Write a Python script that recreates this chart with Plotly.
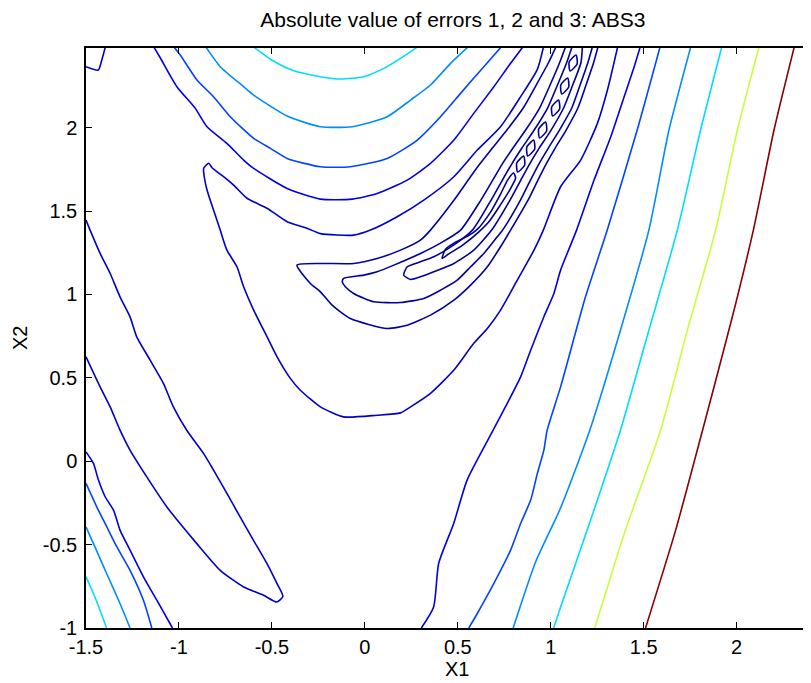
import plotly.graph_objects as go

# ---------------- axes / ticks ----------------
x_range = [-1.5, 2.4]
y_range = [-1.0, 2.478]
x_tick_vals = [-1.5, -1, -0.5, 0, 0.5, 1, 1.5, 2]
x_tick_text = ["-1.5", "-1", "-0.5", "0", "0.5", "1", "1.5", "2"]
y_tick_vals = [-1, -0.5, 0, 0.5, 1, 1.5, 2]
y_tick_text = ["-1", "-0.5", "0", "0.5", "1", "1.5", "2"]

title_text = "Absolute value of errors 1, 2 and 3: ABS3"
x_label = "X1"
y_label = "X2"

# ---------------- contour lines (data coords) ----------------
# level g (highest, dark red)
red_x = [1.510, 1.672, 1.816, 1.977, 2.090, 2.201, 2.309]
red_y = [-1.0, -0.413, 0.183, 0.866, 1.386, 1.986, 2.48]

# level f (yellow-green)
yel_x = [1.237, 1.402, 1.591, 1.735, 1.887, 2.004, 2.119]
yel_y = [-1.0, -0.413, 0.186, 0.786, 1.386, 1.986, 2.48]

# level e (cyan)
cyan_r_x = [1.016, 1.053, 1.196, 1.375, 1.528, 1.681, 1.806, 1.919]
cyan_r_y = [-1.0, -0.874, -0.413, 0.186, 0.786, 1.386, 1.986, 2.48]
cyan_top_x = [-0.594, -0.501, -0.393, -0.239, -0.131, -0.006, 0.102, 0.192, 0.278]
cyan_top_y = [2.48, 2.406, 2.346, 2.306, 2.292, 2.306, 2.356, 2.416, 2.48]
cyan_bl_x = [-1.5, -1.452, -1.389]
cyan_bl_y = [-0.693, -0.814, -1.0]

# level d (light blue)
lb_r_x = [0.798, 0.920, 1.053, 1.210, 1.375, 1.528, 1.636, 1.752]
lb_r_y = [-1.0, -0.600, -0.280, 0.186, 0.786, 1.386, 1.986, 2.48]
lb_top_x = [-0.853, -0.778, -0.652, -0.598, -0.418, -0.239, -0.068, 0.120, 0.246, 0.353, 0.461, 0.551]
lb_top_y = [2.48, 2.366, 2.246, 2.196, 2.070, 2.006, 2.006, 2.066, 2.166, 2.256, 2.386, 2.48]
lb_bl_x = [-1.5, -1.452, -1.389, -1.317, -1.263]
lb_bl_y = [-0.394, -0.514, -0.673, -0.853, -1.0]

# level c (medium blue)
mb_r_x = [0.559, 0.605, 0.694, 0.784, 0.838, 0.892, 0.928, 0.963, 0.981, 1.053, 1.187, 1.304, 1.465, 1.587]
mb_r_y = [-1.0, -0.913, -0.733, -0.533, -0.373, -0.233, -0.073, 0.067, 0.187, 0.446, 0.986, 1.386, 1.986, 2.48]
mb_top_x = [-1.024, -0.993, -0.903, -0.814, -0.724, -0.598, -0.508, -0.418, -0.239, -0.078, 0.120, 0.282, 0.407, 0.515, 0.640, 0.730]
mb_top_y = [2.48, 2.436, 2.286, 2.186, 2.066, 1.936, 1.876, 1.816, 1.766, 1.766, 1.816, 1.926, 2.066, 2.206, 2.366, 2.48]
mb_bl_x = [-1.5, -1.442, -1.388, -1.334, -1.263, -1.191, -1.146]
mb_bl_y = [-0.133, -0.274, -0.394, -0.514, -0.654, -0.834, -1.0]

# level b (blue)
b_r_x = [0.304, 0.370, 0.397, 0.478, 0.550, 0.690, 0.766, 0.838, 0.892, 0.963, 1.017, 1.053, 1.139, 1.233, 1.323, 1.395, 1.449, 1.480]
b_r_y = [-1.0, -0.874, -0.613, -0.373, -0.113, 0.186, 0.347, 0.506, 0.666, 0.866, 1.006, 1.146, 1.386, 1.686, 1.946, 2.186, 2.366, 2.48]
b_top_x = [-1.133, -1.100, -1.011, -0.912, -0.849, -0.742, -0.652, -0.598, -0.418, -0.239, -0.068, 0.066, 0.228, 0.353, 0.479, 0.586, 0.694, 0.784, 0.847]
b_top_y = [2.48, 2.418, 2.246, 2.116, 2.006, 1.906, 1.806, 1.756, 1.636, 1.572, 1.572, 1.606, 1.686, 1.786, 1.926, 2.086, 2.246, 2.386, 2.48]
b_bl_x = [-1.5, -1.460, -1.433, -1.397, -1.352, -1.317, -1.263, -1.191, -1.119, -1.035]
b_bl_y = [0.056, -0.013, -0.113, -0.213, -0.293, -0.413, -0.533, -0.693, -0.833, -1.0]

# level a (the big V around the valley, the lower-left tongue, the corner piece)
v_x = [0.960, 0.928, 0.838, 0.730, 0.605, 0.479, 0.317, 0.174, 0.030, -0.060, -0.239, -0.311,
       -0.418, -0.526, -0.634, -0.706, -0.760, -0.822, -0.840, -0.867, -0.864, -0.849, -0.814,
       -0.778, -0.742, -0.688, -0.652, -0.598, -0.526, -0.472, -0.401, -0.347, -0.239, -0.114,
       0.066, 0.192, 0.246, 0.353, 0.479, 0.586, 0.659, 0.730, 0.820, 0.910, 0.960, 1.053,
       1.161, 1.251, 1.305, 1.359]
v_y = [2.48, 2.350, 2.186, 2.006, 1.866, 1.706, 1.566, 1.466, 1.386, 1.356, 1.365, 1.397,
       1.436, 1.517, 1.577, 1.656, 1.706, 1.760, 1.787, 1.757, 1.706, 1.626, 1.506,
       1.386, 1.266, 1.166, 1.046, 0.906, 0.746, 0.626, 0.497, 0.426, 0.326, 0.266,
       0.276, 0.290, 0.326, 0.407, 0.547, 0.707, 0.796, 0.906, 1.086, 1.266, 1.386, 1.646,
       1.806, 2.026, 2.226, 2.48]
tongue_x = [-1.5, -1.478, -1.424, -1.370, -1.317, -1.263, -1.227, -1.155, -1.083, -1.030, -0.958,
            -0.868, -0.814, -0.742, -0.671, -0.599, -0.527, -0.473, -0.441, -0.473, -0.545, -0.652,
            -0.778, -0.904, -0.994, -1.065, -1.173, -1.263, -1.317, -1.370, -1.424, -1.5]
tongue_y = [1.446, 1.386, 1.246, 1.126, 0.986, 0.866, 0.746, 0.606, 0.466, 0.326, 0.186,
            0.047, -0.053, -0.193, -0.334, -0.474, -0.613, -0.733, -0.810, -0.844, -0.804, -0.754,
            -0.654, -0.494, -0.374, -0.274, -0.094, 0.067, 0.187, 0.326, 0.446, 0.626]
corner_x = [-1.5, -1.434, -1.415, -1.397]
corner_y = [2.366, 2.346, 2.406, 2.48]

# inner valley levels (navy), outermost first
n1_x = [1.026, 0.987, 0.919, 0.852, 0.764, 0.686, 0.618, 0.556, 0.480, 0.353, 0.299, 0.192, 0.066,
        -0.060, -0.239, -0.365, -0.293, -0.239, -0.176, -0.078, 0.120, 0.228, 0.353, 0.479, 0.569,
        0.659, 0.730, 0.784, 0.878, 0.931, 0.975, 1.024, 1.083, 1.146, 1.188, 1.230, 1.253]
n1_y = [2.48, 2.388, 2.250, 2.118, 1.986, 1.878, 1.782, 1.686, 1.566, 1.386, 1.326, 1.266, 1.216,
        1.186, 1.186, 1.176, 1.066, 1.016, 0.936, 0.856, 0.796, 0.816, 0.876, 0.966, 1.056,
        1.166, 1.286, 1.386, 1.566, 1.686, 1.782, 1.878, 1.986, 2.118, 2.250, 2.388, 2.48]
n2_x = [1.078, 1.047, 0.994, 0.940, 0.865, 0.797, 0.739, 0.688, 0.624, 0.515, 0.407, 0.299, 0.156,
        0.066, -0.006, -0.114, -0.121, -0.105, -0.060, 0.048, 0.192, 0.317, 0.407, 0.497, 0.569,
        0.640, 0.712, 0.741, 0.837, 0.891, 0.936, 0.987, 1.047, 1.113, 1.156, 1.199, 1.223]
n2_y = [2.48, 2.388, 2.250, 2.118, 1.986, 1.878, 1.782, 1.686, 1.566, 1.386, 1.308, 1.246, 1.176,
        1.136, 1.116, 1.096, 1.074, 1.046, 1.006, 0.956, 0.952, 0.976, 1.026, 1.086, 1.166,
        1.246, 1.346, 1.386, 1.566, 1.686, 1.782, 1.878, 1.986, 2.118, 2.250, 2.388, 2.48]
n3_x = [1.113, 1.085, 1.034, 0.983, 0.911, 0.845, 0.790, 0.740, 0.679, 0.579, 0.461, 0.371, 0.299,
        0.228, 0.209, 0.246, 0.299, 0.371, 0.479, 0.586, 0.682, 0.781, 0.839, 0.886, 0.938,
        1.002, 1.069, 1.116, 1.162, 1.170]
n3_y = [2.48, 2.388, 2.250, 2.118, 1.986, 1.878, 1.782, 1.686, 1.566, 1.386, 1.284, 1.226, 1.196,
        1.166, 1.116, 1.090, 1.106, 1.136, 1.186, 1.266, 1.386, 1.566, 1.686, 1.782, 1.878,
        1.986, 2.118, 2.250, 2.388, 2.48]
n4_x = [0.416, 0.434, 0.488, 0.553, 0.606, 0.676, 0.730, 0.768, 0.800, 0.811, 0.779, 0.725, 0.666,
        0.612, 0.526, 0.450, 0.416]
n4_y = [1.216, 1.272, 1.314, 1.350, 1.392, 1.494, 1.602, 1.686, 1.728, 1.698, 1.626, 1.530, 1.434,
        1.374, 1.296, 1.242, 1.216]
loop1_x = [0.854, 0.860, 0.822, 0.817, 0.854]
loop1_y = [1.830, 1.776, 1.734, 1.788, 1.830]
loop2_x = [0.908, 0.914, 0.876, 0.871, 0.908]
loop2_y = [1.926, 1.872, 1.830, 1.884, 1.926]
loop3_x = [0.972, 0.978, 0.940, 0.935, 0.972]
loop3_y = [2.034, 1.980, 1.938, 1.992, 2.034]
loop4_x = [1.042, 1.048, 1.010, 1.005, 1.042]
loop4_y = [2.166, 2.112, 2.070, 2.124, 2.166]
loop5_x = [1.091, 1.097, 1.059, 1.054, 1.091]
loop5_y = [2.298, 2.244, 2.202, 2.256, 2.298]
loop6_x = [1.136, 1.142, 1.104, 1.099, 1.136]
loop6_y = [2.436, 2.382, 2.340, 2.394, 2.436]

contour_lines = [
    ("n5", loop1_x, loop1_y), ("n5", loop2_x, loop2_y), ("n5", loop3_x, loop3_y),
    ("n5", loop4_x, loop4_y), ("n5", loop5_x, loop5_y), ("n5", loop6_x, loop6_y),
    ("n5", n4_x, n4_y),
    ("n3", n3_x, n3_y), ("n2", n2_x, n2_y), ("n1", n1_x, n1_y),
    ("a", v_x, v_y), ("a", tongue_x, tongue_y), ("a", corner_x, corner_y),
    ("b", b_r_x, b_r_y), ("b", b_top_x, b_top_y), ("b", b_bl_x, b_bl_y),
    ("c", mb_r_x, mb_r_y), ("c", mb_top_x, mb_top_y), ("c", mb_bl_x, mb_bl_y),
    ("d", lb_r_x, lb_r_y), ("d", lb_top_x, lb_top_y), ("d", lb_bl_x, lb_bl_y),
    ("e", cyan_r_x, cyan_r_y), ("e", cyan_top_x, cyan_top_y), ("e", cyan_bl_x, cyan_bl_y),
    ("f", yel_x, yel_y),
    ("g", red_x, red_y),
]

# ---------------- styles ----------------
level_colors = {
    "n5": "#00008F", "n3": "#000094", "n2": "#00009C", "n1": "#0000A8",
    "a": "#0000C8", "b": "#0000E6", "c": "#0044FF", "d": "#008CFF",
    "e": "#00DCFF", "f": "#C8FF38", "g": "#8A0000",
}
FONT = "Liberation Sans, Arial, Helvetica, sans-serif"

fig = go.Figure()
for lev, xs, ys in contour_lines:
    fig.add_trace(go.Scatter(x=xs, y=ys, mode="lines",
                             line=dict(color=level_colors[lev], width=1.6, shape="spline", smoothing=0.6),
                             hoverinfo="skip", showlegend=False))

axis_common = dict(
    showgrid=False, zeroline=False, showline=True, linecolor="black", linewidth=1.5,
    ticks="inside", ticklen=6, tickwidth=1, tickcolor="black", automargin=False,
    tickfont=dict(family=FONT, size=20, color="black"),
)
# the page body adds an 8 px offset, so the figure is 8 px smaller on the left/top
fig.update_layout(
    width=803, height=675,
    margin=dict(l=78, r=0, t=40, b=55, autoexpand=False),
    paper_bgcolor="white", plot_bgcolor="white",
    font=dict(family=FONT, color="black"),
    title=dict(text=title_text, font=dict(family=FONT, size=21, color="black"),
               x=0.506, xref="paper", xanchor="center",
               y=1 - 12 / 675, yref="container", yanchor="middle"),
    xaxis=dict(range=x_range, tickvals=x_tick_vals, ticktext=x_tick_text,
               mirror="ticks", ticklabelstandoff=0, **axis_common),
    yaxis=dict(range=y_range, tickvals=y_tick_vals, ticktext=y_tick_text,
               mirror=False, ticklabelstandoff=3, **axis_common),
    annotations=[
        dict(text=x_label, xref="paper", yref="paper", x=0.512, y=-0.07,
             xanchor="center", yanchor="middle", showarrow=False,
             font=dict(family=FONT, size=20, color="black")),
        dict(text=y_label, xref="paper", yref="paper", x=-0.091, y=0.5,
             xanchor="center", yanchor="middle", textangle=-90, showarrow=False,
             font=dict(family=FONT, size=20, color="black")),
    ],
)

fig.write_html("out.html", config={"displayModeBar": False})
